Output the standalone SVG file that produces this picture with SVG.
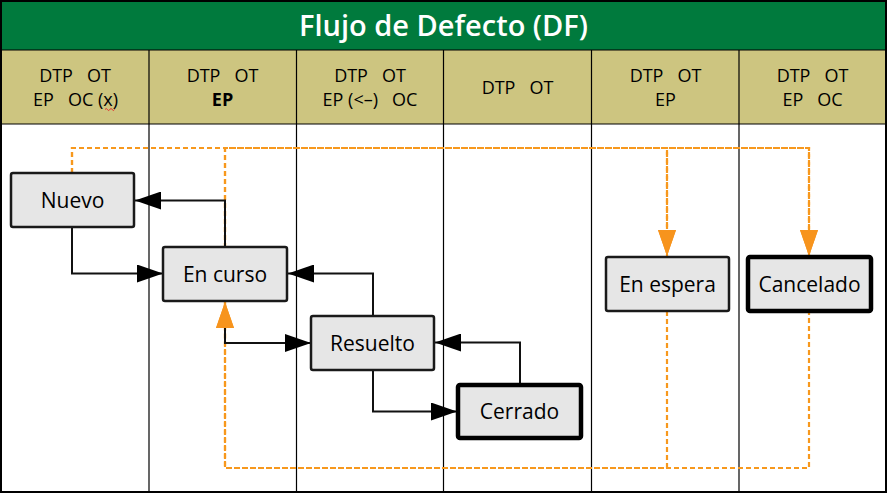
<svg xmlns="http://www.w3.org/2000/svg" width="887" height="494" viewBox="0 0 887 494">
<defs>
<style>
.hdr{font-family:"Open Sans","Liberation Sans",sans-serif;font-size:18px;fill:#000;text-anchor:middle;white-space:pre}
.ttl{font-family:"Open Sans","Liberation Sans",sans-serif;font-size:29px;font-weight:600;fill:#fff;text-anchor:middle}
.nd rect{fill:#e6e6e6;stroke:#1a1a1a;stroke-width:2.5}
.nd.end rect{stroke:#000;stroke-width:4.5}
.nd text{font-family:"Open Sans","Liberation Sans",sans-serif;font-size:21px;fill:#000;text-anchor:middle}
.col{stroke:#000;stroke-width:1.2}
.blk{fill:none;stroke:#111;stroke-width:2;marker-end:url(#ab)}
.org{fill:none;stroke:#f7981d;stroke-width:2.2;stroke-dasharray:5 3;marker-end:url(#ao)}
</style>
<marker id="ab" markerUnits="userSpaceOnUse" markerWidth="26" markerHeight="18" refX="26" refY="9" orient="auto"><path d="M0,0 L26,9 L0,18 Z" fill="#000"/></marker>
<marker id="ao" markerUnits="userSpaceOnUse" markerWidth="26" markerHeight="18" refX="26" refY="9" orient="auto"><path d="M0,0 L26,9 L0,18 Z" fill="#f7941d"/></marker>
</defs>
<rect x="0" y="0" width="887" height="494" fill="#fff"/>
<g id="title">
<rect x="1" y="1" width="885" height="49" fill="#007a3d"/>
<text class="ttl" x="443.5" y="36">Flujo de Defecto (DF)</text>
</g>
<g id="header">
<rect x="1" y="50" width="885" height="74" fill="#cdc580"/>
<text class="hdr" x="75" y="82" xml:space="preserve">DTP   OT</text>
<text class="hdr" x="75.5" y="106" xml:space="preserve">EP   OC (x)</text>
<text class="hdr" x="222.5" y="82" xml:space="preserve">DTP   OT</text>
<text class="hdr" x="222.5" y="106" font-weight="bold">EP</text>
<text class="hdr" x="370" y="82" xml:space="preserve">DTP   OT</text>
<text class="hdr" x="370" y="106" xml:space="preserve">EP (&lt;–)   OC</text>
<text class="hdr" x="517.5" y="94" xml:space="preserve">DTP   OT</text>
<text class="hdr" x="665.5" y="82" xml:space="preserve">DTP   OT</text>
<text class="hdr" x="665.5" y="106">EP</text>
<text class="hdr" x="812.5" y="82" xml:space="preserve">DTP   OT</text>
<text class="hdr" x="812.5" y="106" xml:space="preserve">EP   OC</text>
<path d="M105,109.5 q1.2,-2 2.4,0 t2.4,0 t2.4,0 t2.4,0" fill="none" stroke="#e02020" stroke-width="0.9"/>
</g>
<g id="grid">
<line class="col" x1="1" y1="50" x2="886" y2="50" stroke-width="2"/>
<line class="col" x1="1" y1="124" x2="886" y2="124" stroke-width="1.6"/>
<line class="col" x1="149" y1="50" x2="149" y2="492"/>
<line class="col" x1="296.5" y1="50" x2="296.5" y2="492"/>
<line class="col" x1="443.5" y1="50" x2="443.5" y2="492"/>
<line class="col" x1="591.5" y1="50" x2="591.5" y2="492"/>
<line class="col" x1="739" y1="50" x2="739" y2="492"/>
<rect x="1" y="1" width="885" height="491" fill="none" stroke="#000" stroke-width="2"/>
</g>
<g id="connectors">
<path class="org" d="M72,173 V148 H809 V256"/>
<path class="org" d="M72,173 V148 H667 V256"/>
<path class="org" d="M225,247 V148 H809 V256" stroke-dashoffset="1"/>
<path class="org" d="M225,247 V148 H667 V256" stroke-dashoffset="1"/>
<path class="org" d="M667,311 V468 H225 V302"/>
<path class="org" d="M809,311 V468 H225 V302" stroke-dashoffset="1"/>
<path class="blk" d="M225,247 V200.5 H135"/>
<path class="blk" d="M72,227 V273.5 H163"/>
<path class="blk" d="M373,316 V273.5 H288"/>
<path class="blk" d="M225,328 V343 H311"/>
<path class="blk" d="M520,385 V342.5 H435"/>
<path class="blk" d="M373,370 V411.5 H457"/>
</g>
<g id="nuevo" class="nd"><rect x="11" y="173" width="123" height="54" rx="2"/><text x="72.5" y="207.5">Nuevo</text></g>
<g id="en-curso" class="nd"><rect x="163" y="247" width="124" height="54" rx="2"/><text x="225" y="281.5">En curso</text></g>
<g id="resuelto" class="nd"><rect x="311" y="316" width="123" height="54" rx="2"/><text x="372.5" y="350.5">Resuelto</text></g>
<g id="cerrado" class="nd end"><rect x="458" y="385" width="123" height="53" rx="2"/><text x="519.5" y="419">Cerrado</text></g>
<g id="en-espera" class="nd"><rect x="606" y="257" width="123" height="54" rx="2"/><text x="667.5" y="291.5">En espera</text></g>
<g id="cancelado" class="nd end"><rect x="748" y="257" width="123" height="54" rx="2"/><text x="809.5" y="291.5">Cancelado</text></g>
</svg>
